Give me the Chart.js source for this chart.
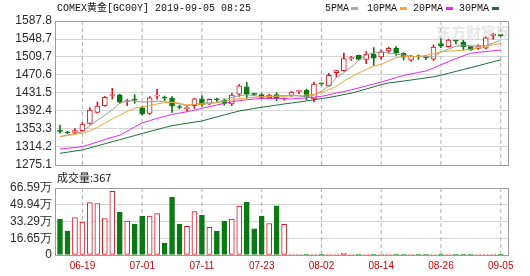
<!DOCTYPE html>
<html><head><meta charset="utf-8">
<script src="https://cdn.jsdelivr.net/npm/chart.js@4"></script>
<style>
html,body{margin:0;padding:0;background:#fff;}
#wrap{position:relative;width:530px;height:276px;overflow:hidden;font-family:"Liberation Sans",Arial,sans-serif;}
canvas{position:absolute;left:0;z-index:1;}
.t{position:absolute;white-space:nowrap;color:#111;z-index:2;}
.m{font:10px "Liberation Mono","Noto Sans CJK SC",monospace;line-height:12px;}
.sw{position:absolute;width:7px;height:3px;z-index:2;}
.wm{position:absolute;white-space:nowrap;color:rgba(170,170,170,0.3);z-index:0;}
</style></head><body>
<div id="wrap">
<div class="wm" style="left:436px;top:24px;font:bold 15px 'Noto Sans CJK SC';line-height:16px;">东方财富网</div>
<div class="wm" style="left:450px;top:40px;font:8px 'Liberation Sans';line-height:9px;">eastmoney.com</div>
<canvas id="pc" width="530" height="176" style="top:0"></canvas>
<canvas id="vc" width="530" height="100" style="top:176px"></canvas>
<div class="t m" style="left:57px;top:3px;">COMEX黄金[GC00Y] 2019-09-05 08:25</div>
<div class="t m" style="left:325px;top:3px;">5PMA</div>
<div class="sw" style="left:351px;top:7px;background:#a8a8a8"></div>
<div class="t m" style="left:367px;top:3px;">10PMA</div>
<div class="sw" style="left:400px;top:7px;background:#f0a830"></div>
<div class="t m" style="left:413px;top:3px;">20PMA</div>
<div class="sw" style="left:446px;top:7px;background:#f020f0"></div>
<div class="t m" style="left:459px;top:3px;">30PMA</div>
<div class="sw" style="left:492px;top:7px;background:#1e6b3a"></div>
<div class="t" style="left:57px;top:170px;font:11px 'Noto Sans CJK SC';line-height:15px;">成交量:367</div>
</div>
<script>
const dates = ['06-14','06-17','06-18','06-19','06-20','06-21','06-24','06-25','06-26','06-27','06-28',
 '07-01','07-02','07-03','07-04','07-05','07-08','07-09','07-10','07-11','07-12','07-15','07-16','07-17','07-18','07-19','07-22','07-23','07-24','07-25','07-26','07-29','07-30','07-31',
 '08-01','08-02','08-05','08-06','08-07','08-08','08-09','08-12','08-13','08-14','08-15','08-16','08-19','08-20','08-21','08-22','08-23','08-26','08-27','08-28','08-29','08-30',
 '09-02','09-03','09-04','09-05'];
const openP = [1349,1346,1346,1349.6,1365.6,1389.5,1404,1426,1427.5,1413,
 1417,1399,1387,1424.5,1421,1420.6,1401,1397.5,1404,1419,
 1407.6,1417.5,1415.6,1408,1429,1445,1429,1427.8,1421,1428,
 1418.5,1425.6,1435,1437,1418.5,1452,1447,1475.6,1480,1506,
 1513,1504.6,1516,1509.6,1522.6,1529,1517.6,1503,1511,1509,
 1505,1539,1532,1545,1542,1532,1528.5,1529,1556.5,1556.5];
const highP = [1362,1348,1354,1367,1400,1412,1424,1441.6,1429,1418,
 1428,1401.5,1423.7,1439.5,1425,1423.6,1405,1402,1420,1426,
 1419,1420.6,1419,1431,1450,1454.7,1430.5,1430,1429,1432,
 1421,1435,1438,1440,1455,1453.6,1474,1481,1518,1511,
 1514,1521.5,1530,1525,1531,1532,1519,1513,1514,1513,
 1536,1549,1548,1546.5,1546,1533,1536,1553,1561,1557];
const lowP = [1344,1343,1343,1348,1364,1388,1403,1418,1409,1404,
 1409,1384,1385,1418,1415,1389.5,1397,1392,1398,1403,
 1406,1413,1405,1404,1424,1420,1426.5,1419,1419,1415,
 1416,1424,1430,1417,1412,1448,1446,1467,1479,1502,
 1503,1495,1491,1505,1518,1513,1503,1500,1504.6,1504,
 1502,1530,1531,1538,1525,1524,1526,1527,1548,1554];
const closeP = [1348,1345,1350,1364,1394.5,1403,1422,1427.5,1411.5,1414,
 1416,1386,1421,1425.5,1420,1403,1400,1398.5,1419,1406,
 1417.8,1416.5,1409,1427,1447,1428.6,1428.4,1422,1427,1420,
 1419.5,1433.6,1436,1423,1451,1451,1470,1479.9,1506,1507,
 1504.6,1516,1507,1521,1528.5,1519,1509,1511.8,1510,1508,
 1531,1533,1546.5,1544,1532,1525,1534,1551,1557.5,1555.9];
const ma5 = [1336.6,1340.2,1343.7,1347.4,1360.4,1372.0,1382.8,1395.0,1408.9,1415.2,
 1414.1,1411.5,1412.3,1413.9,1412.3,1411.0,1408.0,1403.9,1406.5,1408.9,
 1409.7,1410.8,1416.5,1421.7,1425.6,1427.8,1425.6,1423.6,1424.3,1425.2,
 1426.0,1426.7,1424.7,1423.6,1426.9,1435.4,1446.7,1464.5,1476.0,1487.9,
 1502.5,1514.0,1518.7,1521.1,1518.5,1515.9,1513.5,1511.4,1510.3,1510.3,
 1510.3,1520.5,1526.6,1532.9,1535.2,1533.7,1532.9,1534.6,1540.0,1545.9];
const ma10 = [1336.6,1339.2,1341.5,1344.2,1349.8,1356.3,1365.9,1375.4,1382.8,1391.7,
 1398.2,1401.7,1404.1,1407.6,1410.6,1411.3,1409.1,1405.4,1406.0,1406.9,
 1408.6,1410.4,1413.0,1416.2,1419.3,1420.6,1422.1,1423.4,1423.8,1424.1,
 1424.5,1424.9,1426.0,1427.1,1428.0,1432.5,1438.8,1445.6,1457.5,1466.2,
 1474.9,1482.5,1490.1,1493.8,1500.9,1508.5,1510.3,1510.3,1510.3,1513.3,
 1516.8,1520.9,1522.2,1523.3,1524.4,1526.3,1529.6,1532.9,1535.9,1539.4];
const ma20 = [1309.8,1311.6,1313.1,1315.1,1319.8,1325.0,1330.3,1335.3,1339.8,1348.5,
 1357.6,1366.3,1371.5,1376.3,1380.6,1384.8,1388.0,1390.8,1394.5,1398.2,
 1401.9,1405.4,1408.6,1412.3,1414.9,1416.7,1418.4,1419.9,1419.7,1419.3,
 1418.9,1418.4,1419.7,1421.0,1422.3,1424.1,1427.5,1431.5,1434.3,1438.4,
 1442.5,1446.9,1451.0,1455.3,1459.9,1464.7,1469.5,1472.9,1476.2,1479.2,
 1485.7,1492.9,1499.4,1505.9,1512.4,1517.9,1519.8,1521.6,1523.1,1524.8];
const ma30 = [1300.5,1302.9,1305.5,1307.7,1312.2,1316.8,1321.1,1325.7,1330.0,1334.6,
 1338.9,1343.5,1347.8,1352.0,1356.5,1360.4,1363.1,1365.7,1368.3,1370.7,
 1375.2,1379.5,1383.9,1388.2,1392.4,1395.2,1397.8,1400.4,1402.8,1405.2,
 1407.6,1409.7,1411.9,1414.3,1416.9,1419.3,1421.7,1424.7,1428.0,1431.0,
 1435.6,1440.1,1444.9,1449.7,1453.2,1455.3,1457.5,1459.7,1461.9,1464.2,
 1466.4,1470.1,1474.2,1478.4,1482.5,1486.6,1490.7,1495.1,1499.2,1503.3];
// volume in 万手
const volume = [35.6,23.7,37.3,32.6,52.1,51.1,36.3,63.3,42.5,33.6,
 30.7,38.6,38.6,41.2,11.9,57.4,30.7,28.4,43.2,39.6,
 27.4,23.7,33.6,35.6,48.5,52.4,26.0,38.6,31.3,48.8,
 30.4,0.6,0.5,0.7,0.6,0.8,0.5,0.6,1.9,0.7,
 0.6,0.8,0.9,0.6,0.7,0.5,0.6,0.5,0.7,0.6,
 0.8,0.7,0.5,0.6,0.6,0.5,0.7,0.6,0.5,0.0367];
const priceTicks = ['1275.1','1314.2','1353.3','1392.4','1431.5','1470.6','1509.7','1548.7','1587.8'];
const volTicks = ['0','16.65','33.29','49.94','66.59'];
const dateTicks = ['06-19','07-01','07-11','07-23','08-02','08-14','08-26','09-05'];

const RED = '#e2141c', GREEN = '#0b7a12';
const up = closeP.map((c, i) => c >= openP[i]);
const tickIdx = dateTicks.map(d => dates.indexOf(d));
Chart.defaults.font.family = 'Liberation Sans';
Chart.defaults.animation = false;

const frame = {
  id: 'frame',
  beforeDatasetsDraw(chart) {
    const a = chart.chartArea, c = chart.ctx;
    c.save();
    c.lineWidth = 1;
    c.strokeStyle = '#9c9c9c';
    c.strokeRect(Math.round(a.left) + 0.5, Math.round(a.top) + 0.5, Math.round(a.right - a.left) - 1, Math.round(a.bottom - a.top));
    c.restore();
  }
};

// dashed vertical guide lines at the date ticks, drawn as line datasets under the marks
const guides = (lo, hi) => tickIdx.map(v => ({
  type: 'line', data: [{x: v, y: lo}, {x: v, y: hi}], borderColor: '#b0b0b0', borderWidth: 1,
  borderDash: [4, 3], pointRadius: 0, order: 10
}));

function xAxis(showLabels, h) {
  return {
    type: 'linear', min: -0.67, max: 60.11, bounds: 'data', offset: false,
    afterBuildTicks: s => { s.ticks = tickIdx.map(v => ({value: v})); },
    grid: {display: false, drawTicks: false, offset: false},
    border: {display: false},
    ticks: {display: showLabels, color: '#d10000', font: {size: 10}, padding: 5, maxRotation: 0, autoSkip: false,
      callback: v => dates[v]},
    afterFit: s => { s.height = h; s.paddingLeft = 0; s.paddingRight = 0; }
  };
}
function yAxis(min, max, ticks, fmt) {
  return {
    type: 'linear', min: min, max: max, bounds: 'data', beginAtZero: false,
    afterBuildTicks: s => { s.ticks = ticks.map(t => ({value: parseFloat(t)})); },
    grid: {color: '#d6d6d6', drawTicks: false},
    border: {display: false},
    ticks: {color: '#2a2a2a', font: {size: 12}, padding: 3, autoSkip: false,
      callback: (v, i) => fmt(ticks[i])},
    afterFit: s => { s.width = 55; s.paddingTop = 0; s.paddingBottom = 0; }
  };
}
const xy = arr => arr.map((v, i) => ({x: i, y: v}));
const line = (arr, col) => ({type: 'line', data: xy(arr), borderColor: col, borderWidth: 1, pointRadius: 0, tension: 0, order: 0});
const pMin = parseFloat(priceTicks[0]), pMax = parseFloat(priceTicks[priceTicks.length - 1]);
const vMax = parseFloat(volTicks[volTicks.length - 1]);

new Chart(document.getElementById('pc'), {
  type: 'bar',
  data: {
    datasets: [
      ...guides(pMin, pMax),
      {type: 'bar', data: dates.map((d, i) => ({x: i, y: [lowP[i], highP[i]]})), barThickness: 1, grouped: false,
        backgroundColor: c => up[c.dataIndex] ? RED : GREEN, borderWidth: 0, order: 3},
      {type: 'bar', data: dates.map((d, i) => ({x: i, y: [openP[i], closeP[i]]})), barThickness: 5, grouped: false, minBarLength: 1,
        backgroundColor: c => up[c.dataIndex] ? '#ffffff' : GREEN, borderColor: c => up[c.dataIndex] ? RED : GREEN,
        borderWidth: 1, borderSkipped: false, order: 2},
      line(ma30, '#1e6b3a'),
      line(ma20, '#e828e8'),
      line(ma10, '#eea534'),
      line(ma5, '#9a9a9a')
    ]
  },
  options: {
    responsive: false, events: [],
    layout: {padding: {top: 21, right: 21, left: 0, bottom: 0}},
    plugins: {legend: {display: false}, tooltip: {enabled: false}},
    scales: {x: xAxis(false, 11), y: yAxis(pMin, pMax, priceTicks, t => t)}
  },
  plugins: [frame]
});

new Chart(document.getElementById('vc'), {
  type: 'bar',
  data: {
    datasets: [
      ...guides(0, vMax),
      {type: 'bar', data: xy(volume), barThickness: 5, grouped: false, minBarLength: 1,
        backgroundColor: c => up[c.dataIndex] ? '#ffffff' : GREEN, borderColor: c => up[c.dataIndex] ? RED : GREEN,
        borderWidth: 1, borderSkipped: false, order: 2}
    ]
  },
  options: {
    responsive: false, events: [],
    layout: {padding: {top: 12, right: 21, left: 0, bottom: 0}},
    plugins: {legend: {display: false}, tooltip: {enabled: false}},
    scales: {x: xAxis(true, 21), y: yAxis(0, vMax, volTicks, t => t === '0' ? '0' : t + '万')}
  },
  plugins: [frame]
});
</script>
</body></html>
